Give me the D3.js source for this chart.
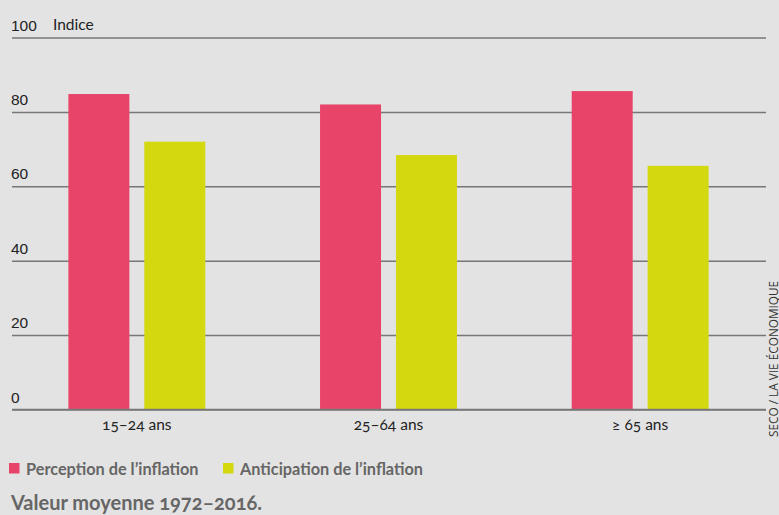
<!DOCTYPE html>
<html>
<head>
<meta charset="utf-8">
<script src="https://cdn.jsdelivr.net/npm/d3@7"></script>
<style>
  html, body { margin: 0; padding: 0; background: #e3e3e3; }
  svg { display: block; font-family: Lato, "Open Sans", sans-serif; font-feature-settings: "onum"; }
</style>
</head>
<body>
<div id="chart"></div>
<script>
// Indices moyens par classe d'âge, 1972–2016
const ageGroups = ["15–24 ans", "25–64 ans", "≥ 65 ans"];
const seriesNames = ["Perception de l’inflation", "Anticipation de l’inflation"];
const perception = [84.8, 82, 85.6];
const anticipation = [72, 68.4, 65.5];
const yTicks = [0, 20, 40, 60, 80, 100];
const colors = ["#e8446a", "#d4d80f"];

const W = 779, H = 515;
const plotLeft = 11, plotRight = 766, plotTop = 37.5, plotBottom = 409.5;

const svg = d3.select("#chart").append("svg")
  .attr("width", W).attr("height", H);

svg.append("rect").attr("width", W).attr("height", H).attr("fill", "#e3e3e3");

const x0 = d3.scaleBand().domain(ageGroups).range([plotLeft, plotRight])
  .paddingInner(0.456).paddingOuter(0.228);
const x1 = d3.scaleBand().domain(seriesNames).range([0, x0.bandwidth()])
  .paddingInner(0.197).paddingOuter(0);
const y = d3.scaleLinear().domain([0, 100]).range([plotBottom, plotTop]);

// Lignes de grille et graduations
const yAxis = svg.append("g")
  .attr("transform", `translate(${plotRight},0)`)
  .call(d3.axisLeft(y).tickValues(yTicks).tickSize(plotRight - 12).tickFormat(d3.format("d")));
yAxis.select(".domain").remove();
yAxis.selectAll(".tick line").attr("stroke", "#777").attr("stroke-width", 1.5);
yAxis.selectAll(".tick text")
  .attr("x", -(plotRight - 11)).attr("dy", -7.5)
  .attr("text-anchor", "start")
  .attr("fill", "#222").attr("font-size", 15.5);

svg.append("text").attr("x", 53).attr("y", 30)
  .attr("font-size", 15.5).attr("fill", "#222").text("Indice");

// Barres
const rows = ageGroups.map((g, i) => ({ group: g, values: [perception[i], anticipation[i]] }));
const grp = svg.append("g").selectAll("g").data(rows).join("g")
  .attr("transform", d => `translate(${x0(d.group)},0)`);
grp.selectAll("rect")
  .data(d => d.values.map((v, j) => ({ key: seriesNames[j], value: v, j })))
  .join("rect")
  .attr("x", d => x1(d.key))
  .attr("width", x1.bandwidth())
  .attr("y", d => y(d.value))
  .attr("height", d => y(0) - y(d.value))
  .attr("fill", d => colors[d.j]);

// Redessine la ligne de base au-dessus des barres
svg.append("line").attr("x1", 12).attr("x2", plotRight)
  .attr("y1", y(0)).attr("y2", y(0))
  .attr("stroke", "#777").attr("stroke-width", 1.5);

// Étiquettes des classes d'âge
const xAxis = svg.append("g")
  .attr("transform", `translate(0,${plotBottom})`)
  .call(d3.axisBottom(x0).tickSize(0).tickPadding(9));
xAxis.select(".domain").remove();
xAxis.selectAll(".tick text")
  .attr("font-size", 15.5).attr("fill", "#222")
  .attr("font-family", "Lato, sans-serif");

// Légende
const legendX = [9, 223];
const legend = svg.append("g").selectAll("g").data(seriesNames).join("g")
  .attr("transform", (d, i) => `translate(${legendX[i]},463)`);
legend.append("rect").attr("width", 10.5).attr("height", 10.5)
  .attr("fill", (d, i) => colors[i]);
legend.append("text").attr("x", 17).attr("y", 11.5)
  .attr("font-size", 16.3).attr("font-weight", 700).attr("fill", "#666")
  .text(d => d);

// Note
svg.append("text").attr("x", 11).attr("y", 510)
  .attr("font-size", 20).attr("font-weight", 700).attr("fill", "#666")
  .text("Valeur moyenne 1972–2016.");

// Source
svg.append("text")
  .attr("transform", "translate(777.5,437) rotate(-90)")
  .attr("font-family", "'Open Sans', sans-serif")
  .attr("font-size", 11.8).attr("fill", "#333")
  .text("SECO / LA VIE ÉCONOMIQUE");
</script>
</body>
</html>
